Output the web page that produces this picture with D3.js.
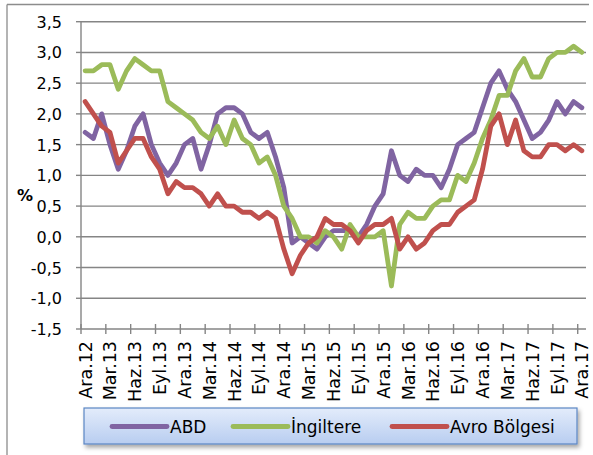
<!DOCTYPE html>
<html>
<head>
<meta charset="utf-8">
<script src="https://cdn.jsdelivr.net/npm/d3@7"></script>
<style>
  html, body { margin: 0; padding: 0; background: #fff; }
  svg { display: block; font-family: "DejaVu Sans", sans-serif; }
</style>
</head>
<body>
<div id="chart"></div>
<script>
// Enflasyon: ABD, İngiltere, Avro Bölgesi (Ara.12 - Ara.17, aylık)

const months = ['Ara', 'Oca', 'Şub', 'Mar', 'Nis', 'May', 'Haz', 'Tem', 'Ağu', 'Eyl', 'Eki', 'Kas'];
const periods = d3.range(61).map(i => months[i % 12] + '.' + (12 + Math.floor((i + 11) / 12)));

const abd = [1.7, 1.6, 2.0, 1.5, 1.1, 1.4, 1.8, 2.0, 1.5, 1.2, 1.0, 1.2,
  1.5, 1.6, 1.1, 1.5, 2.0, 2.1, 2.1, 2.0, 1.7, 1.6, 1.7, 1.3,
  0.8, -0.1, 0.0, -0.1, -0.2, 0.0, 0.1, 0.1, 0.1, 0.0, 0.2, 0.5,
  0.7, 1.4, 1.0, 0.9, 1.1, 1.0, 1.0, 0.8, 1.1, 1.5, 1.6, 1.7,
  2.1, 2.5, 2.7, 2.4, 2.2, 1.9, 1.6, 1.7, 1.9, 2.2, 2.0, 2.2, 2.1];

const ingiltere = [2.7, 2.7, 2.8, 2.8, 2.4, 2.7, 2.9, 2.8, 2.7, 2.7, 2.2, 2.1,
  2.0, 1.9, 1.7, 1.6, 1.8, 1.5, 1.9, 1.6, 1.5, 1.2, 1.3, 1.0,
  0.5, 0.3, 0.0, 0.0, -0.1, 0.1, 0.0, -0.2, 0.2, 0.0, 0.0, 0.0,
  0.1, -0.8, 0.2, 0.4, 0.3, 0.3, 0.5, 0.6, 0.6, 1.0, 0.9, 1.2,
  1.6, 1.9, 2.3, 2.3, 2.7, 2.9, 2.6, 2.6, 2.9, 3.0, 3.0, 3.1, 3.0];

const avro = [2.2, 2.0, 1.8, 1.7, 1.2, 1.4, 1.6, 1.6, 1.3, 1.1, 0.7, 0.9,
  0.8, 0.8, 0.7, 0.5, 0.7, 0.5, 0.5, 0.4, 0.4, 0.3, 0.4, 0.3,
  -0.2, -0.6, -0.3, -0.1, 0.0, 0.3, 0.2, 0.2, 0.1, -0.1, 0.1, 0.2,
  0.2, 0.3, -0.2, 0.0, -0.2, -0.1, 0.1, 0.2, 0.2, 0.4, 0.5, 0.6,
  1.1, 1.8, 2.0, 1.5, 1.9, 1.4, 1.3, 1.3, 1.5, 1.5, 1.4, 1.5, 1.4];

const yTicks = [-1.5, -1.0, -0.5, 0.0, 0.5, 1.0, 1.5, 2.0, 2.5, 3.0, 3.5];

const series = [
  { name: 'ABD', values: abd, color: '#8064a2' },
  { name: 'İngiltere', values: ingiltere, color: '#9bbb59' },
  { name: 'Avro Bölgesi', values: avro, color: '#c0504d' }
];

const width = 593, height = 455;
const plot = { left: 81, right: 586, top: 21.7, bottom: 329 };

const svg = d3.select('#chart').append('svg')
  .attr('width', width)
  .attr('height', height);

// outer frame (left + top edge visible)
svg.append('line').attr('x1', 7).attr('x2', 7).attr('y1', 4.5).attr('y2', height)
  .attr('stroke', '#8c8c8c').attr('stroke-width', 1.3);
svg.append('line').attr('x1', 7).attr('x2', 589).attr('y1', 4.5).attr('y2', 4.5)
  .attr('stroke', '#8c8c8c').attr('stroke-width', 1.3);

const x = d3.scaleBand()
  .domain(d3.range(periods.length))
  .range([plot.left, plot.right])
  .padding(0);
const y = d3.scaleLinear()
  .domain([-1.5, 3.5])
  .range([plot.bottom, plot.top]);

const fmt = v => d3.format('.1f')(v).replace('.', ',').replace('−', '-');

// gridlines
svg.append('g').selectAll('line')
  .data(yTicks.filter(v => v > -1.5))
  .join('line')
  .attr('x1', plot.left).attr('x2', plot.right)
  .attr('y1', d => y(d)).attr('y2', d => y(d))
  .attr('stroke', '#858585').attr('stroke-width', 1.4);

// y axis
const yAxis = svg.append('g');
yAxis.append('line')
  .attr('x1', plot.left).attr('x2', plot.left)
  .attr('y1', plot.top).attr('y2', plot.bottom)
  .attr('stroke', '#858585').attr('stroke-width', 1.4);
yAxis.selectAll('.tick')
  .data(yTicks)
  .join('line')
  .attr('x1', plot.left - 5).attr('x2', plot.left)
  .attr('y1', d => y(d)).attr('y2', d => y(d))
  .attr('stroke', '#858585').attr('stroke-width', 1.4);
yAxis.selectAll('text')
  .data(yTicks)
  .join('text')
  .attr('x', 62)
  .attr('y', d => y(d) + 6)
  .attr('text-anchor', 'end')
  .attr('font-size', 16)
  .attr('fill', '#000')
  .text(fmt);

svg.append('text')
  .attr('x', 25).attr('y', 201)
  .attr('text-anchor', 'middle')
  .attr('font-size', 16)
  .attr('font-weight', 'bold')
  .text('%');

// x axis
const xAxis = svg.append('g');
xAxis.append('line')
  .attr('x1', plot.left).attr('x2', plot.right)
  .attr('y1', plot.bottom).attr('y2', plot.bottom)
  .attr('stroke', '#858585').attr('stroke-width', 1.4);
const tickIdx = d3.range(0, periods.length, 3);
xAxis.selectAll('.tick')
  .data(tickIdx)
  .join('line')
  .attr('x1', d => x(d)).attr('x2', d => x(d))
  .attr('y1', plot.bottom - 5).attr('y2', plot.bottom + 5)
  .attr('stroke', '#858585').attr('stroke-width', 1.4);
xAxis.selectAll('text')
  .data(tickIdx)
  .join('text')
  .attr('transform', d => `translate(${x(d) + x.bandwidth() / 2 + 6.5},341) rotate(-90)`)
  .attr('text-anchor', 'end')
  .attr('font-size', 17.5)
  .text(d => periods[d]);

// lines
const line = d3.line()
  .x((d, i) => x(i) + x.bandwidth() / 2)
  .y(d => y(d));

svg.append('g').selectAll('path')
  .data(series)
  .join('path')
  .attr('d', d => line(d.values))
  .attr('fill', 'none')
  .attr('stroke', d => d.color)
  .attr('stroke-width', 4.8)
  .attr('stroke-linejoin', 'round')
  .attr('stroke-linecap', 'round');

// legend
const defs = svg.append('defs');
const grad = defs.append('linearGradient')
  .attr('id', 'legendFill')
  .attr('x1', 0).attr('y1', 0).attr('x2', 0).attr('y2', 1);
grad.append('stop').attr('offset', '0%').attr('stop-color', '#e3ecfb');
grad.append('stop').attr('offset', '100%').attr('stop-color', '#b8cdf0');
const shadow = defs.append('filter').attr('id', 'legendShadow')
  .attr('x', '-5%').attr('y', '-20%').attr('width', '115%').attr('height', '160%');
shadow.append('feDropShadow')
  .attr('dx', 2).attr('dy', 3).attr('stdDeviation', 2)
  .attr('flood-color', '#000').attr('flood-opacity', 0.35);

const legend = svg.append('g');
legend.append('rect')
  .attr('x', 84).attr('y', 408)
  .attr('width', 493).attr('height', 36)
  .attr('fill', 'url(#legendFill)')
  .attr('stroke', '#5b86c4')
  .attr('stroke-width', 1.2)
  .attr('filter', 'url(#legendShadow)');

const legendX = [112, 233, 392];
const items = legend.selectAll('g.item')
  .data(series)
  .join('g')
  .attr('class', 'item')
  .attr('transform', (d, i) => `translate(${legendX[i]},426.5)`);
items.append('line')
  .attr('x1', 0).attr('x2', 55)
  .attr('stroke', d => d.color)
  .attr('stroke-width', 4.8)
  .attr('stroke-linecap', 'round');
items.append('text')
  .attr('x', 58).attr('y', 6.5)
  .attr('font-size', 17)
  .text(d => d.name);
</script>
</body>
</html>
